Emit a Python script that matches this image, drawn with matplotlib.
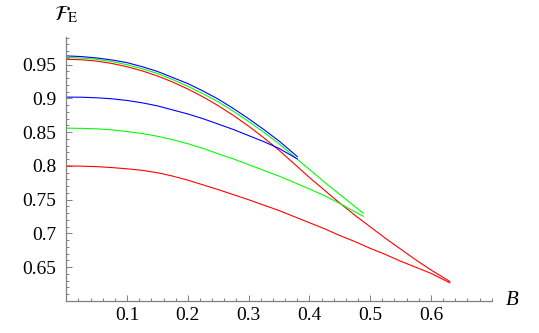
import matplotlib
matplotlib.use('Agg')
import matplotlib.pyplot as plt
from matplotlib.ticker import MultipleLocator

plt.rcParams['mathtext.fontset'] = 'stix'
plt.rcParams['font.family'] = 'serif'
plt.rcParams['font.serif'] = ['Liberation Serif', 'DejaVu Serif']

# ---- data ----
B_red = [0, 0.025, 0.05, 0.075, 0.1, 0.125, 0.15, 0.175, 0.2, 0.225, 0.25, 0.275, 0.3,
         0.325, 0.35, 0.375, 0.4, 0.425, 0.45, 0.475, 0.5, 0.525, 0.55, 0.575, 0.6, 0.631]
F_red_upper = [0.958, 0.9573, 0.9553, 0.9518, 0.947, 0.9408, 0.9333, 0.9243, 0.914, 0.9023,
               0.8893, 0.8748, 0.859, 0.8418, 0.8233, 0.8033, 0.783, 0.764, 0.745, 0.727,
               0.710, 0.693, 0.677, 0.661, 0.646, 0.629]
F_red_lower = [0.800, 0.7997, 0.799, 0.7976, 0.7958, 0.7935, 0.790, 0.785, 0.779, 0.772,
               0.765, 0.7575, 0.750, 0.742, 0.734, 0.725, 0.716, 0.707, 0.697, 0.688,
               0.678, 0.669, 0.659, 0.650, 0.641, 0.627]

B_green = [0, 0.025, 0.05, 0.075, 0.1, 0.125, 0.15, 0.175, 0.2, 0.225, 0.25, 0.275, 0.3,
           0.325, 0.35, 0.375, 0.4, 0.425, 0.45, 0.475, 0.489]
F_green_upper = [0.9605, 0.9598, 0.958, 0.9546, 0.950, 0.944, 0.937, 0.928, 0.918, 0.907,
                 0.895, 0.881, 0.866, 0.850, 0.833, 0.814, 0.795, 0.776, 0.758, 0.740, 0.730]
F_green_lower = [0.856, 0.8557, 0.855, 0.8535, 0.851, 0.848, 0.844, 0.839, 0.833, 0.826,
                 0.818, 0.8105, 0.802, 0.7935, 0.785, 0.7755, 0.766, 0.756, 0.7445, 0.732, 0.7255]

B_blue = [0, 0.025, 0.05, 0.075, 0.1, 0.125, 0.15, 0.175, 0.2, 0.225, 0.25, 0.275, 0.3,
          0.325, 0.35, 0.38]
F_blue_upper = [0.963, 0.962, 0.960, 0.957, 0.953, 0.947, 0.940, 0.931, 0.922, 0.911,
                0.899, 0.885, 0.870, 0.854, 0.837, 0.814]
F_blue_lower = [0.902, 0.9018, 0.901, 0.8995, 0.897, 0.8935, 0.889, 0.883, 0.877, 0.870,
                0.862, 0.854, 0.845, 0.836, 0.826, 0.8105]

x_ticks = [0.1, 0.2, 0.3, 0.4, 0.5, 0.6]
x_tick_labels = ['0.1', '0.2', '0.3', '0.4', '0.5', '0.6']
y_ticks = [0.65, 0.7, 0.75, 0.8, 0.85, 0.9, 0.95]
y_tick_labels = ['0.65', '0.7', '0.75', '0.8', '0.85', '0.9', '0.95']

fig = plt.figure(figsize=(5.39, 3.33), dpi=100)
ax = fig.add_axes([0.123, 0.0961, 0.7893, 0.7928])

lw = 0.8
ax.plot(B_red, F_red_upper, color='#ff0000', lw=lw)
ax.plot(B_red, F_red_lower, color='#ff0000', lw=lw)
ax.plot(B_green, F_green_upper, color='#00ff00', lw=lw)
ax.plot(B_green, F_green_lower, color='#00ff00', lw=lw)
ax.plot(B_blue, F_blue_upper, color='#0000ff', lw=lw)
ax.plot(B_blue, F_blue_lower, color='#0000ff', lw=lw)

ax.set_xlim(0, 0.70)
ax.set_ylim(0.6, 0.991)

for s in ['top', 'right']:
    ax.spines[s].set_visible(False)
for s in ['left', 'bottom']:
    ax.spines[s].set_color('#808080')
    ax.spines[s].set_linewidth(0.9)

ax.set_xticks(x_ticks)
ax.set_xticklabels(x_tick_labels)
ax.set_yticks(y_ticks)
ax.set_yticklabels(y_tick_labels)
ax.xaxis.set_minor_locator(MultipleLocator(0.02))
ax.yaxis.set_minor_locator(MultipleLocator(0.01))

ax.tick_params(which='both', direction='in', color='#808080', width=0.7, labelsize=14, labelcolor='black')
ax.tick_params(which='major', length=4)
ax.tick_params(which='minor', length=2)
ax.tick_params(axis='y', which='both', pad=7)
ax.tick_params(axis='x', which='both', pad=4)

ax.text(1.048, 0.0, 'B', transform=ax.transAxes, fontsize=15, fontstyle='italic',
        ha='center', va='center')
ax.text(0.0, 1.083, r'$\mathcal{F}_{\mathrm{E}}$', transform=ax.transAxes, fontsize=15,
        ha='center', va='center')

fig.savefig('out.png', dpi=100)
